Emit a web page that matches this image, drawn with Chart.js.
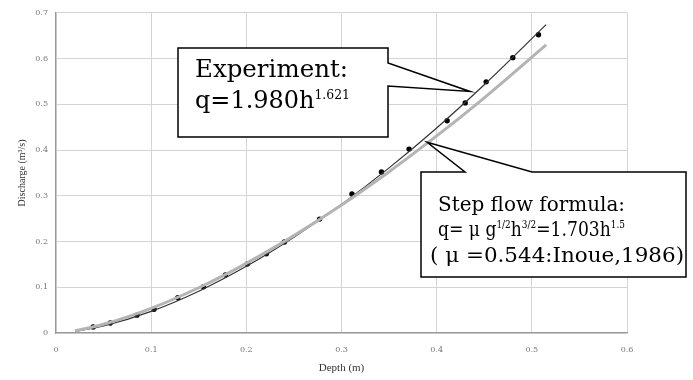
<!DOCTYPE html>
<html>
<head>
<meta charset="utf-8">
<script src="https://cdn.jsdelivr.net/npm/chart.js@4.4.1/dist/chart.umd.min.js"></script>
<style>
  html, body { margin: 0; padding: 0; background: #fff; }
  #wrap { width: 693px; height: 380px; }
</style>
</head>
<body>
<div id="wrap"><canvas id="chart"></canvas></div>
<script>
// measured points (depth m, discharge m2/s)
const depthObs = [0.039, 0.057, 0.085, 0.103, 0.128, 0.155, 0.178, 0.201, 0.221, 0.240,
                  0.277, 0.311, 0.342, 0.371, 0.411, 0.430, 0.452, 0.480, 0.507];
const dischargeObs = [0.013, 0.022, 0.039, 0.052, 0.077, 0.101, 0.127, 0.151, 0.173, 0.199,
                      0.249, 0.304, 0.352, 0.402, 0.464, 0.503, 0.549, 0.602, 0.652];

// fitted curves
const depthCurve = [0.02, 0.05, 0.10, 0.15, 0.20, 0.25, 0.30, 0.35, 0.40, 0.45, 0.515];
const expCurve = [0.0035, 0.0154, 0.0474, 0.0914, 0.1457, 0.2093, 0.2812, 0.3610, 0.4483, 0.5427, 0.674];
const stepCurve = [0.0048, 0.0190, 0.0539, 0.0989, 0.1523, 0.2129, 0.2798, 0.3526, 0.4308, 0.5141, 0.630];

const toXY = (xs, ys) => xs.map((x, i) => ({ x: x, y: ys[i] }));

// where the callout arrows point (data coords)
const expTip = { x: 0.435, y: 0.528 };
const stepTip = { x: 0.390, y: 0.417 };

const serif = '"DejaVu Serif", "Liberation Serif", serif';

// draws a line of text with superscript parts, stretched to a given width
function richText(ctx, parts, x, y, size, width) {
  ctx.textBaseline = 'alphabetic';
  ctx.textAlign = 'left';
  let total = 0;
  parts.forEach(p => {
    ctx.font = (p.sup ? size * 0.52 : size) + 'px ' + serif;
    total += ctx.measureText(p.t).width;
  });
  ctx.save();
  ctx.translate(x, y);
  ctx.scale(width ? width / total : 1, 1);
  let cx = 0;
  parts.forEach(p => {
    ctx.font = (p.sup ? size * 0.52 : size) + 'px ' + serif;
    ctx.fillText(p.t, cx, p.sup ? -size * 0.38 : 0);
    cx += ctx.measureText(p.t).width;
  });
  ctx.restore();
}

const calloutPlugin = {
  id: 'callouts',
  afterDraw(chart) {
    const ctx = chart.ctx;
    const xs = chart.scales.x, ys = chart.scales.y;
    const t1 = [xs.getPixelForValue(expTip.x), ys.getPixelForValue(expTip.y)];
    const t2 = [xs.getPixelForValue(stepTip.x), ys.getPixelForValue(stepTip.y)];
    ctx.save();
    ctx.fillStyle = '#fff';
    ctx.strokeStyle = '#000';
    ctx.lineWidth = 1.5;
    ctx.lineJoin = 'miter';

    // experiment box
    ctx.beginPath();
    ctx.moveTo(178, 48);
    ctx.lineTo(388, 48);
    ctx.lineTo(388, 63);
    ctx.lineTo(t1[0], t1[1]);
    ctx.lineTo(388, 86);
    ctx.lineTo(388, 137);
    ctx.lineTo(178, 137);
    ctx.closePath();
    ctx.fill();
    ctx.stroke();

    // step flow box
    ctx.beginPath();
    ctx.moveTo(421, 172);
    ctx.lineTo(465, 172);
    ctx.lineTo(t2[0], t2[1]);
    ctx.lineTo(532, 172);
    ctx.lineTo(686, 172);
    ctx.lineTo(686, 277);
    ctx.lineTo(421, 277);
    ctx.closePath();
    ctx.fill();
    ctx.stroke();

    ctx.fillStyle = '#000';
    richText(ctx, [{ t: 'Experiment:' }], 195, 77, 24, 153);
    richText(ctx, [{ t: 'q=1.980h' }, { t: '1.621', sup: true }], 195, 108, 24, 155);

    richText(ctx, [{ t: 'Step flow formula:' }], 438, 211, 20, 187);
    richText(ctx, [{ t: 'q= μ g' }, { t: '1/2', sup: true }, { t: 'h' }, { t: '3/2', sup: true },
                   { t: '=1.703h' }, { t: '1.5', sup: true }], 438, 236, 20, 187);
    richText(ctx, [{ t: '( μ =0.544:Inoue,1986)' }], 430, 262, 20, 254);
    ctx.restore();
  }
};

const ctx = document.getElementById('chart');
new Chart(ctx, {
  type: 'scatter',
  data: {
    datasets: [
      {
        label: 'Step flow formula',
        data: toXY(depthCurve, stepCurve),
        showLine: true,
        borderColor: '#b4b4b4',
        borderWidth: 3,
        pointRadius: 0,
        cubicInterpolationMode: 'monotone'
      },
      {
        label: 'Experiment fit',
        data: toXY(depthCurve, expCurve),
        showLine: true,
        borderColor: '#333',
        borderWidth: 1.2,
        pointRadius: 0,
        cubicInterpolationMode: 'monotone'
      },
      {
        label: 'Experiment',
        data: toXY(depthObs, dischargeObs),
        showLine: false,
        pointRadius: 2.7,
        pointBackgroundColor: '#000',
        pointBorderColor: '#000',
        borderWidth: 0
      }
    ]
  },
  options: {
    responsive: true,
    maintainAspectRatio: false,
    animation: false,
    layout: { padding: { top: 12, right: 66, left: 0, bottom: 0 } },
    plugins: {
      legend: { display: false },
      tooltip: { enabled: false }
    },
    scales: {
      x: {
        type: 'linear',
        min: 0,
        max: 0.6,
        afterFit(scale) { scale.height = 47; },
        ticks: {
          stepSize: 0.1,
          padding: 12,
          color: '#777',
          font: { family: serif, size: 8 }
        },
        grid: { color: '#d4d4d4', lineWidth: 1, drawTicks: false },
        border: { color: '#999', width: 1.2 },
        title: {
          display: true,
          text: 'Depth (m)',
          color: '#333',
          font: { family: '"Liberation Serif", serif', size: 11 },
          padding: { top: 0, bottom: 5 }
        }
      },
      y: {
        type: 'linear',
        min: 0,
        max: 0.7,
        afterFit(scale) { scale.width = 56; },
        ticks: {
          stepSize: 0.1,
          padding: 8,
          color: '#777',
          font: { family: serif, size: 8 }
        },
        grid: { color: '#d4d4d4', lineWidth: 1, drawTicks: false },
        border: { color: '#999', width: 1.2 },
        title: {
          display: true,
          text: 'Discharge (m³/s)',
          color: '#333',
          font: { family: '"Liberation Serif", serif', size: 10 },
          padding: { top: 16, bottom: 0 }
        }
      }
    }
  },
  plugins: [calloutPlugin]
});
</script>
</body>
</html>
